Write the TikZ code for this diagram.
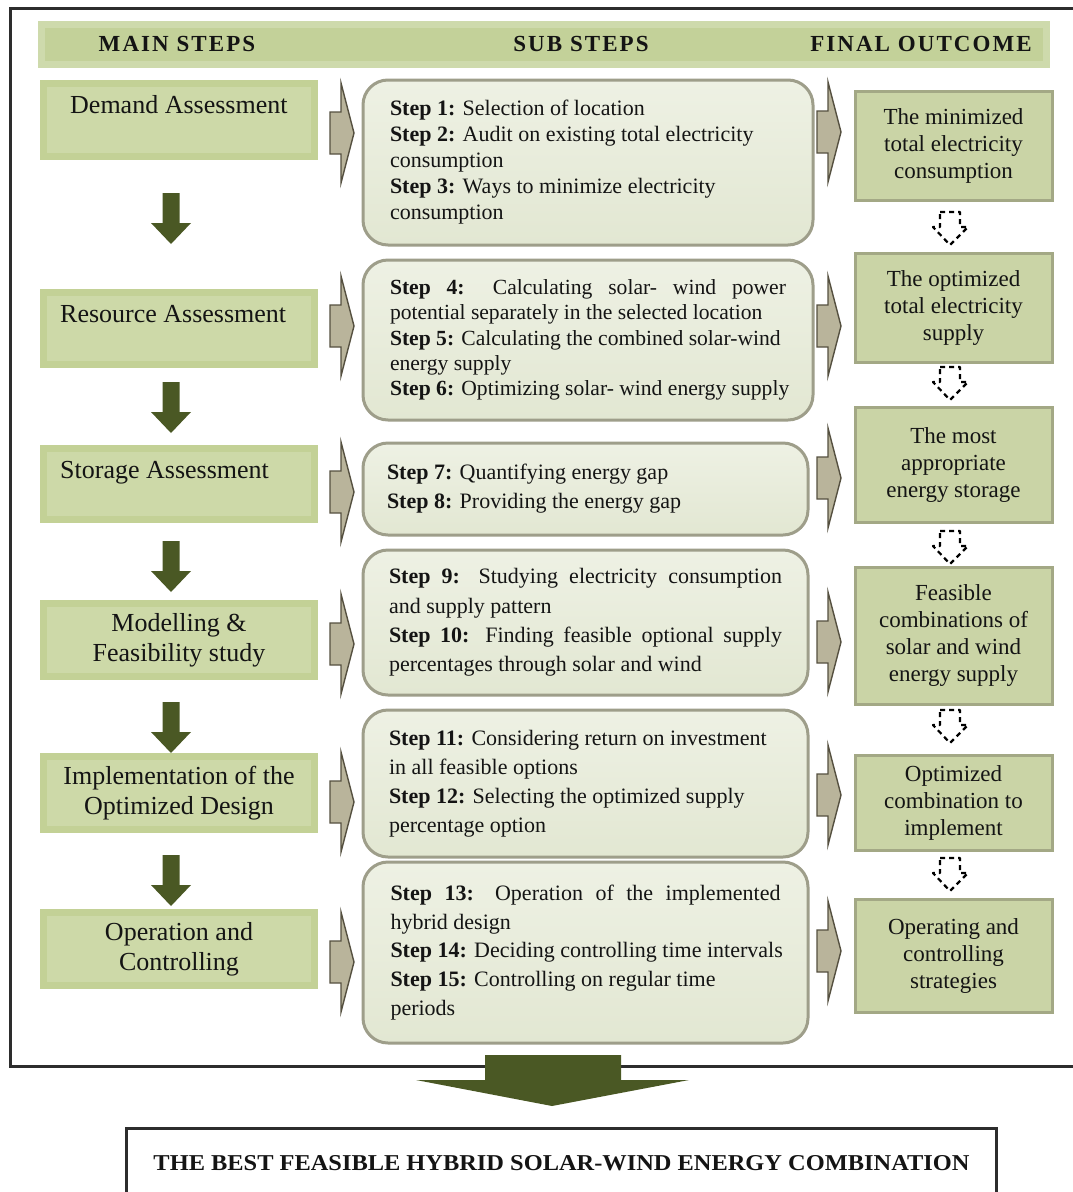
\documentclass[tikz,border=0pt]{standalone}
\usepackage{fontspec}
\usepackage{graphicx}
\setmainfont{Liberation Serif}
\newfontfamily\hdrfont[LetterSpace=9]{Liberation Serif}
\definecolor{framec}{RGB}{45,45,45}
\definecolor{txt}{RGB}{20,20,20}
\definecolor{hdrout}{RGB}{206,218,172}
\definecolor{hdrin}{RGB}{195,209,153}
\definecolor{mainout}{RGB}{195,209,150}
\definecolor{mainin}{RGB}{205,217,168}
\definecolor{subtop}{RGB}{238,241,228}
\definecolor{subbot}{RGB}{226,231,210}
\definecolor{subline}{RGB}{158,158,138}
\definecolor{finfill}{RGB}{202,212,166}
\definecolor{finline}{RGB}{163,168,133}
\definecolor{darkolive}{RGB}{74,88,36}
\definecolor{rfill}{RGB}{185,180,155}
\definecolor{rline}{RGB}{85,80,64}
\newlength\sw
\newcommand\LL[1]{\makebox[\sw][l]{#1}}
\newcommand\JJ[1]{\makebox[\sw][s]{#1}}
\tikzset{
  boxpair/.style 2 args={fill=#1, path picture={\fill[#2] ([shift={(7,7)}]path picture bounding box.north west) rectangle ([shift={(-7,-7)}]path picture bounding box.south east);}},
  hdrbox/.style={boxpair={hdrout}{hdrin}, inner sep=0},
  hdrtext/.style={inner sep=0, text=txt, font=\hdrfont\bfseries\fontsize{23}{27}\selectfont},
  mainbox/.style={boxpair={mainout}{mainin}, inner sep=0, minimum width=278, align=center, text=txt, font=\fontsize{26}{30}\selectfont},
  maintext/.style={inner sep=0, text=txt, font=\fontsize{26}{30}\selectfont},
  subw/.code={\setlength{\sw}{#1}},
  subbox/.style={draw=subline, line width=3, rounded corners=25, top color=subtop, bottom color=subbot, inner sep=0, align=left, text=txt},
  finalbox/.style={fill=finfill, draw=finline, line width=3, inner sep=0, minimum width=197, align=center, text=txt, font=\fontsize{23}{27}\selectfont},
  dashedarrow/.style={draw=black, fill=white, line width=2.2, dash pattern=on 5pt off 4pt, line join=round},
  rarr/.pic={\filldraw[fill=rfill, draw=rline, line width=1.4, line join=miter] (0,-21) -- (11,-21) -- (11,-50) -- (24,0) -- (11,50) -- (11,21) -- (0,21) -- cycle;},
  darr/.pic={\fill[darkolive] (-8.5,0) -- (8.5,0) -- (8.5,30) -- (20,30) -- (0,51) -- (-20,30) -- (-8.5,30) -- cycle;},
  dasharr/.pic={\path[dashedarrow] (-10,0) -- (10,0) -- (10,15) -- (18,15) -- (0,33) -- (-17,15) -- (-10,15) -- cycle;},
}
\begin{document}
\begin{tikzpicture}[x=1pt,y=-1pt]
\useasboundingbox (0,0) rectangle (1072,1192);
\fill[white] (0,0) rectangle (1072,1192);
% frame
\draw[framec, line width=3] (1078,8) -- (10,8) -- (10,1066) -- (1078,1066);
% header
\node[hdrbox, minimum width=1012, minimum height=47] (hdr) at (544,44.5) {};
\node[hdrtext, anchor=base] (h1) at (177,51) {MAIN STEPS};
\node[hdrtext, anchor=base] (h2) at (581,51) {SUB STEPS};
\node[hdrtext, anchor=base] (h3) at (921,51) {FINAL OUTCOME};
% main steps
\node[mainbox, minimum height=80] (m1) at (179,120) {};
\node[maintext, anchor=base west] (t1) at (70,113) {Demand Assessment};
\node[mainbox, minimum height=79] (m2) at (179,328.5) {};
\node[maintext, anchor=base west] (t2) at (60,322) {Resource Assessment};
\node[mainbox, minimum height=78] (m3) at (179,484) {};
\node[maintext, anchor=base west] (t3) at (60,478) {Storage Assessment};
\node[mainbox, minimum height=80] (m4) at (179,640) {Modelling \&\\Feasibility study};
\node[mainbox, minimum height=80] (m5) at (179,793) {Implementation of the\\Optimized Design};
\node[mainbox, minimum height=80] (m6) at (179,949) {Operation and\\Controlling};
% down arrows
\pic at (171,193) {darr};
\pic at (171,382) {darr};
\pic at (171,541) {darr};
\pic at (171,702) {darr};
\pic at (171,855) {darr};
% sub steps
\node[subbox, subw=396pt, minimum width=450, minimum height=165, font=\fontsize{22}{26}\selectfont] (s1) at (588,162.5)
 {\LL{\textbf{Step 1:} Selection of location}\\
  \LL{\textbf{Step 2:} Audit on existing total electricity}\\
  \LL{consumption}\\
  \LL{\textbf{Step 3:} Ways to minimize electricity}\\
  \LL{consumption}};
\node[subbox, subw=396pt, minimum width=450, minimum height=160, font=\fontsize{21.6}{25.3}\selectfont] (s2) at (588,340)
 {\JJ{\textbf{Step 4:} Calculating solar- wind power}\\
  \LL{potential separately in the selected location}\\
  \LL{\textbf{Step 5:} Calculating the combined solar-wind}\\
  \LL{energy supply}\\
  \LL{\textbf{Step 6:} Optimizing solar- wind energy supply}};
\node[subbox, subw=397pt, minimum width=445, minimum height=92, font=\fontsize{22}{29}\selectfont] (s3) at (585.5,489)
 {\LL{\textbf{Step 7:} Quantifying energy gap}\\
  \LL{\textbf{Step 8:} Providing the energy gap}};
\node[subbox, subw=393pt, minimum width=445, minimum height=145, font=\fontsize{22}{29.3}\selectfont] (s4) at (585.5,622.5)
 {\JJ{\textbf{Step 9:} Studying electricity consumption}\\
  \LL{and supply pattern}\\
  \JJ{\textbf{Step 10:} Finding feasible optional supply}\\
  \LL{percentages through solar and wind}};
\node[subbox, subw=393pt, minimum width=445, minimum height=147, font=\fontsize{22}{29}\selectfont] (s5) at (585.5,783.5)
 {\LL{\textbf{Step 11:} Considering return on investment}\\
  \LL{in all feasible options}\\
  \LL{\textbf{Step 12:} Selecting the optimized supply}\\
  \LL{percentage option}};
\node[subbox, subw=390pt, minimum width=445, minimum height=181, font=\fontsize{22}{28.8}\selectfont] (s6) at (585.5,952.5)
 {\JJ{\textbf{Step 13:} Operation of the implemented}\\
  \LL{hybrid design}\\
  \LL{\textbf{Step 14:} Deciding controlling time intervals}\\
  \LL{\textbf{Step 15:} Controlling on regular time}\\
  \LL{periods}};
% right arrows main -> sub
\pic at (330,133) {rarr};
\pic at (330,326) {rarr};
\pic at (330,492) {rarr};
\pic at (330,644) {rarr};
\pic at (330,802) {rarr};
\pic at (330,962) {rarr};
% right arrows sub -> final
\pic at (817,132) {rarr};
\pic at (817,326) {rarr};
\pic at (817,478) {rarr};
\pic at (817,642) {rarr};
\pic at (817,795) {rarr};
\pic at (817,951) {rarr};
% final outcome
\node[finalbox, minimum height=109] (f1) at (953.5,145.5) {The minimized\\total electricity\\consumption};
\node[finalbox, minimum height=109] (f2) at (953.5,307.5) {The optimized\\total electricity\\supply};
\node[finalbox, minimum height=115] (f3) at (953.5,464.5) {The most\\appropriate\\energy storage};
\node[finalbox, minimum height=137] (f4) at (953.5,635.5) {Feasible\\combinations of\\solar and wind\\energy supply};
\node[finalbox, minimum height=95] (f5) at (953.5,802.5) {Optimized\\combination to\\implement};
\node[finalbox, minimum height=113] (f6) at (953.5,955.5) {Operating and\\controlling\\strategies};
% dashed arrows
\pic at (950,212) {dasharr};
\pic at (950,367) {dasharr};
\pic at (950,531) {dasharr};
\pic at (950,710) {dasharr};
\pic at (950,858) {dasharr};
% big arrow
\fill[darkolive] (485,1055) -- (621,1055) -- (621,1080) -- (689,1080) -- (552,1106) -- (416,1080) -- (485,1080) -- cycle;
% result box
\node[draw=framec, line width=3, minimum width=870, minimum height=70, anchor=north west, inner sep=0, text=txt] (best) at (125,1127)
 {\resizebox{816pt}{15pt}{\bfseries THE BEST FEASIBLE HYBRID SOLAR-WIND ENERGY COMBINATION}};
\end{tikzpicture}
\end{document}
